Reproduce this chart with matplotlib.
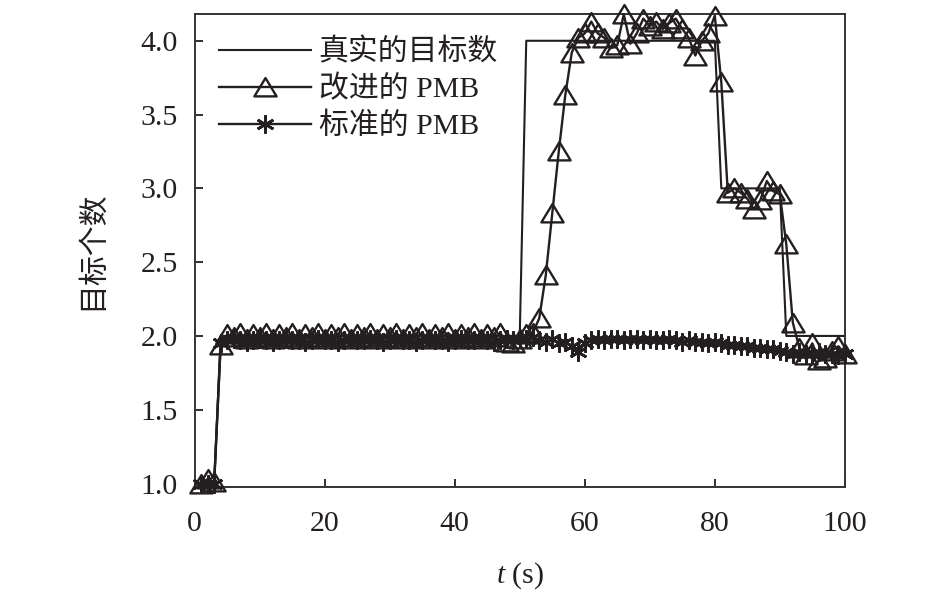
import matplotlib
matplotlib.use("Agg")
import matplotlib.pyplot as plt
from matplotlib.path import Path
import numpy as np

plt.rcParams['font.family'] = ['Liberation Serif', 'Noto Sans CJK SC', 'DejaVu Sans']
plt.rcParams['mathtext.fontset'] = 'custom'
plt.rcParams['mathtext.it'] = 'Liberation Serif:italic'
plt.rcParams['mathtext.rm'] = 'Liberation Serif'

# ---------------- data ----------------
t = list(range(1, 101))

true_count = ([1] * 3 + [2] * 47 + [4] * 30 + [3] * 10 + [2] * 10)

improved_pmb = [
    1.00, 1.03, 1.01, 1.94, 2.01, 1.99, 2.02, 1.98, 2.01, 1.99,   # 1-10
    2.02, 1.98, 2.01, 1.99, 2.02, 1.98, 2.01, 1.99, 2.02, 1.98,   # 11-20
    2.01, 1.99, 2.02, 1.98, 2.01, 1.99, 2.02, 1.98, 2.01, 1.99,   # 21-30
    2.02, 1.98, 2.01, 1.99, 2.02, 1.98, 2.01, 1.99, 2.02, 1.98,   # 31-40
    2.01, 1.99, 2.02, 1.98, 2.01, 1.99, 2.02, 1.96, 1.95, 1.98,   # 41-50
    2.01, 2.02, 2.12, 2.41, 2.83, 3.25, 3.63, 3.92, 4.02, 4.05,   # 51-60
    4.13, 4.05, 4.02, 3.95, 3.97, 4.18, 3.98, 4.05, 4.15, 4.10,   # 61-70
    4.13, 4.08, 4.12, 4.15, 4.08, 4.02, 3.90, 4.00, 4.05, 4.17,   # 71-80
    3.72, 2.97, 3.00, 2.97, 2.93, 2.86, 2.92, 3.05, 2.98, 2.96,   # 81-90
    2.62, 2.09, 1.92, 1.87, 1.95, 1.84, 1.85, 1.90, 1.93, 1.88,   # 91-100
]

standard_pmb = [
    1.00, 1.00, 1.00, 1.95, 1.97, 1.98, 1.97, 1.96, 1.97, 1.98,   # 1-10
    1.97, 1.96, 1.97, 1.98, 1.97, 1.97, 1.96, 1.97, 1.98, 1.97,   # 11-20
    1.97, 1.96, 1.97, 1.98, 1.97, 1.97, 1.98, 1.97, 1.96, 1.97,   # 21-30
    1.98, 1.97, 1.97, 1.96, 1.97, 1.98, 1.97, 1.97, 1.96, 1.97,   # 31-40
    1.98, 1.97, 1.97, 1.98, 1.97, 1.96, 1.97, 1.98, 1.97, 1.98,   # 41-50
    1.98, 1.99, 1.97, 1.96, 1.98, 1.95, 1.96, 1.93, 1.89, 1.95,   # 51-60
    1.97, 1.98, 1.97, 1.98, 1.98, 1.97, 1.98, 1.98, 1.97, 1.98,   # 61-70
    1.97, 1.97, 1.98, 1.97, 1.96, 1.97, 1.96, 1.96, 1.95, 1.96,   # 71-80
    1.95, 1.94, 1.94, 1.93, 1.93, 1.92, 1.92, 1.91, 1.91, 1.90,   # 81-90
    1.89, 1.88, 1.89, 1.88, 1.88, 1.89, 1.88, 1.88, 1.87, 1.88,   # 91-100
]

labels = ['真实的目标数', '改进的 PMB', '标准的 PMB']
xticks = [0, 20, 40, 60, 80, 100]
yticks = [1.0, 1.5, 2.0, 2.5, 3.0, 3.5, 4.0]

# ---------------- plot ----------------
ink = '#231f20'
fs = 21.5
fig = plt.figure(figsize=(9.45, 5.92), dpi=100)
ax = fig.add_axes([0.206, 0.177, 0.688, 0.799])

tri = Path([(-1, -0.8), (1, -0.8), (0, 0.85), (-1, -0.8)],
           [Path.MOVETO, Path.LINETO, Path.LINETO, Path.CLOSEPOLY])

ax.plot(t, true_count, color=ink, lw=1.5, label=labels[0])
ax.plot(t, improved_pmb, color=ink, lw=1.7, marker=tri, markersize=16,
        markerfacecolor='none', markeredgecolor=ink, markeredgewidth=1.7,
        label=labels[1], clip_on=False, zorder=3)
ax.plot(t, standard_pmb, color=ink, lw=1.7, marker=(6, 2, 0), markersize=13,
        markeredgecolor=ink, markeredgewidth=1.9, label=labels[2],
        clip_on=False, zorder=3)

ax.set_xlim(0, 100)
ax.set_ylim(0.975, 4.18)
ax.set_xticks(xticks)
ax.set_yticks(yticks)
ax.set_yticklabels([f'{v:.1f}' for v in yticks])
ax.tick_params(direction='in', length=6, width=1.3, labelsize=fs, colors=ink,
               top=False, right=False)
ax.tick_params(axis='x', pad=17)
ax.tick_params(axis='y', pad=12)
for s in ax.spines.values():
    s.set_linewidth(1.4)
    s.set_color('#333333')

ax.set_xlabel(r'$t$ (s)', fontsize=fs, color=ink, labelpad=17)
ax.set_ylabel('目标个数', fontsize=fs, color=ink, labelpad=25)

leg = ax.legend(loc='upper left', bbox_to_anchor=(0.0, 1.0), frameon=False,
                fontsize=fs, handlelength=3.1, handletextpad=0.25,
                labelspacing=0.3, borderaxespad=0.5, borderpad=0.3)
for txt in leg.get_texts():
    txt.set_color(ink)

fig.savefig('out.png', dpi=100)
